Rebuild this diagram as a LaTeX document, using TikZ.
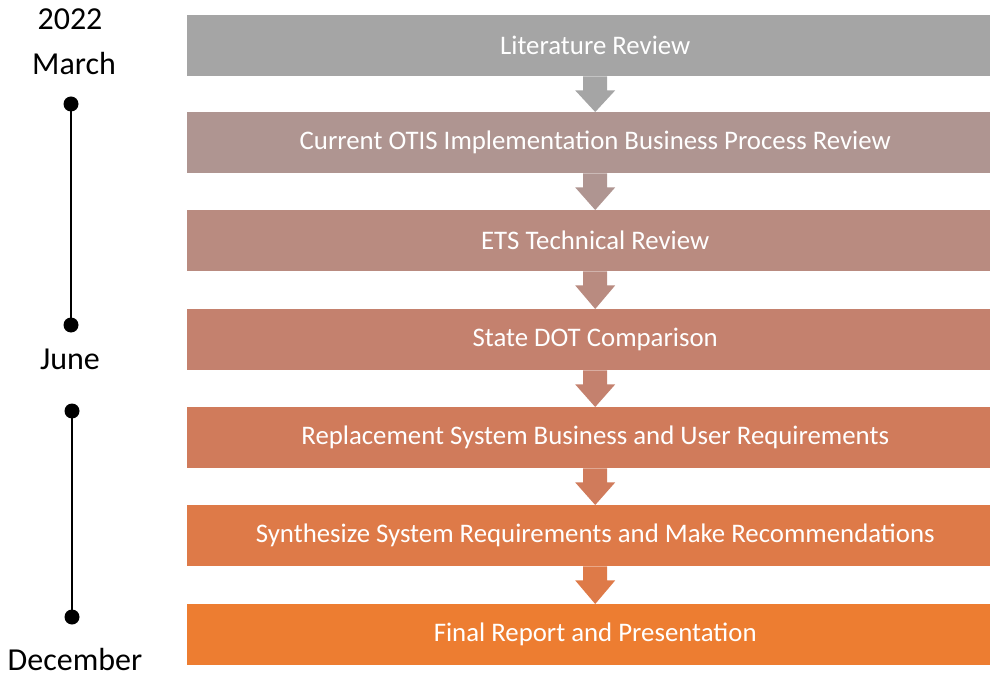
\documentclass[tikz,border=0pt]{standalone}
\usepackage{fontspec}
\setmainfont{Carlito}
\definecolor{c1}{HTML}{A5A5A5}
\definecolor{c2}{HTML}{AF9591}
\definecolor{c3}{HTML}{B98B80}
\definecolor{c4}{HTML}{C4816E}
\definecolor{c5}{HTML}{D07B5B}
\definecolor{c6}{HTML}{DE7A48}
\definecolor{c7}{HTML}{ED7D31}
\begin{document}
\begin{tikzpicture}[x=1pt,y=-1pt,
  stage/.style={fill=#1, draw=none, minimum width=816pt, minimum height=61pt, inner sep=0pt,
     text=white, font=\fontsize{26.8}{30}\selectfont, anchor=north west},
  lbl/.style={font=\fontsize{32}{36}\selectfont, text=black, anchor=base, inner sep=0pt},
  dotm/.style={circle, fill=black, inner sep=0pt, minimum size=15pt}]
\useasboundingbox (0,0) rectangle (990,676);
\foreach \i/\y/\c/\t in {1/15/c1/Literature Review,
  2/112/c2/Current OTIS Implementation Business Process Review,
  3/210/c3/ETS Technical Review,
  4/309/c4/State DOT Comparison,
  5/407/c5/Replacement System Business and User Requirements,
  6/505/c6/Synthesize System Requirements and Make Recommendations,
  7/604/c7/Final Report and Presentation}
  \node[stage=\c] (s\i) at (187,\y) {\t};
\foreach \i/\j/\c in {1/2/c1,2/3/c2,3/4/c3,4/5/c4,5/6/c5,6/7/c6}
  \fill[\c] ([xshift=-12pt]s\i.south) -- ([xshift=12pt]s\i.south) -- ([xshift=12pt,yshift=-14pt]s\i.south)
    -- ([xshift=20pt,yshift=-14pt]s\i.south) -- (s\j.north) -- ([xshift=-20pt,yshift=-14pt]s\i.south)
    -- ([xshift=-12pt,yshift=-14pt]s\i.south) -- cycle;
\node[lbl] (yr) at (70,30) {2022};
\node[lbl] (mar) at (74,75) {March};
\node[lbl] (jun) at (70,369) {June};
\node[lbl] (dec) at (75,670) {December};
\node[dotm] (d1) at (71,104) {};
\node[dotm] (d2) at (71,325) {};
\node[dotm] (d3) at (72,411) {};
\node[dotm] (d4) at (72,617) {};
\draw[line width=2.5pt] (d1.center) -- (d2.center);
\draw[line width=2.5pt] (d3.center) -- (d4.center);
\end{tikzpicture}
\end{document}
